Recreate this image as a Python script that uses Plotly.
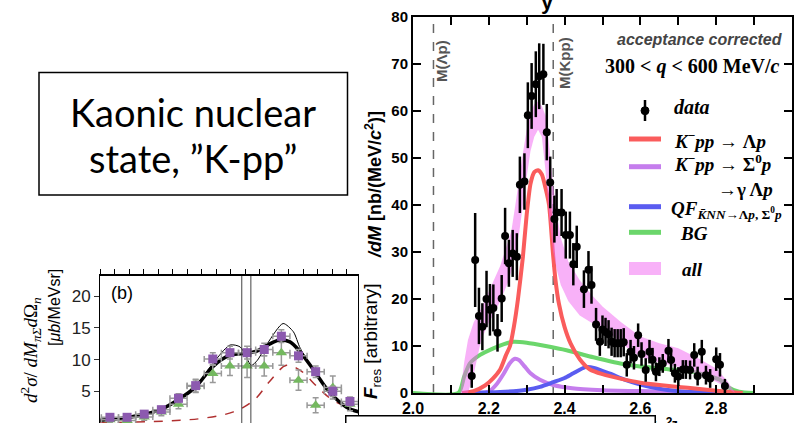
import plotly.graph_objects as go

W, H = 802, 423

# ---------------- main plot data (Lambda-p invariant mass) ----------------
mass = [2.155, 2.164, 2.174, 2.183, 2.194, 2.203, 2.212, 2.223, 2.234, 2.243,
        2.253, 2.263, 2.274, 2.282, 2.294, 2.303, 2.313, 2.324, 2.333, 2.344,
        2.353, 2.362, 2.373, 2.379, 2.392, 2.403, 2.414, 2.423, 2.432, 2.451,
        2.463, 2.471, 2.483, 2.493, 2.500, 2.508, 2.516, 2.524, 2.532, 2.540,
        2.548, 2.556, 2.564, 2.574, 2.583, 2.594, 2.603, 2.614, 2.624, 2.632,
        2.641, 2.650, 2.659, 2.674, 2.681, 2.691, 2.700, 2.712, 2.720, 2.731,
        2.742, 2.751, 2.762, 2.773, 2.784, 2.800, 2.810, 2.823]
xsec = [3.6, 28.3, 16.4, 14.1, 20.0, 17.7, 18.1, 12.8, 20.1, 33.4,
        27.6, 29.7, 29.0, 44.3, 45.0, 59.1, 63.2, 65.7, 67.4, 67.8,
        55.5, 44.8, 37.0, 38.4, 38.4, 33.6, 33.6, 27.4, 31.1, 22.1,
        26.2, 23.0, 14.6, 10.9, 13.5, 13.0, 12.5, 10.9, 10.6, 10.6,
        10.6, 10.8, 6.0, 8.8, 7.5, 12.3, 8.3, 4.9, 8.8, 7.1,
        4.5, 5.6, 6.3, 9.0, 7.0, 4.2, 3.5, 5.0, 5.0, 4.9,
        8.1, 3.6, 8.8, 3.8, 3.1, 7.2, 6.0, 1.5]
xsec_err = [2.5, 10, 6, 5, 6, 5.5, 5, 4, 5, 6,
            5, 5, 5, 6, 6, 7, 7, 7, 7, 6.5,
            6, 5.5, 5, 5, 5, 5, 5, 4.5, 4.5, 4,
            4, 4, 3.5, 3, 3, 3, 3, 3, 3, 3,
            3, 3, 2.5, 2.5, 2.5, 2.5, 2.5, 2.5, 2.5, 2.5,
            2, 2, 2, 2.5, 2.5, 2, 2, 2, 2, 2,
            2.5, 2, 2.5, 2, 2, 2.5, 2.5, 1.5]

red_m = [2.13, 2.16, 2.19, 2.21, 2.23, 2.245, 2.256, 2.266, 2.277, 2.29, 2.30,
         2.31, 2.32, 2.33, 2.34, 2.35, 2.359, 2.369, 2.376, 2.385, 2.40, 2.416,
         2.44, 2.467, 2.5, 2.55, 2.6, 2.65, 2.7, 2.75, 2.8, 2.85, 2.87]
red_v = [0, 0.4, 1.6, 3.0, 5.0, 8.0, 10.0, 14.0, 20.0, 29.0, 38.0,
         44.5, 47.0, 47.4, 46.5, 43.5, 40.0, 30.0, 24.0, 19.0, 14.0, 10.5,
         7.2, 5.0, 4.0, 3.0, 2.2, 1.7, 1.3, 0.9, 0.5, 0.1, 0]

pur_m = [2.17, 2.20, 2.22, 2.24, 2.255, 2.269, 2.28, 2.295, 2.31, 2.335, 2.37,
         2.42, 2.5, 2.6, 2.7, 2.8, 2.85]
pur_v = [0, 0.3, 1.8, 4.2, 6.3, 7.3, 7.0, 5.6, 4.2, 2.8, 1.7,
         1.0, 0.6, 0.4, 0.25, 0.1, 0]

blu_m = [2.13, 2.23, 2.28, 2.30, 2.335, 2.37, 2.40, 2.423, 2.455, 2.48, 2.52,
         2.56, 2.60, 2.65, 2.70, 2.75, 2.80, 2.85]
blu_v = [0, 0.2, 0.5, 0.7, 1.3, 2.3, 3.2, 4.2, 5.5, 5.3, 4.1,
         2.8, 1.8, 0.9, 0.4, 0.15, 0, 0]

grn_m = [2.0, 2.12, 2.135, 2.15, 2.177, 2.212, 2.24, 2.265, 2.30, 2.35, 2.405,
         2.476, 2.564, 2.652, 2.74, 2.81, 2.828, 2.86, 2.9]
grn_v = [0, 0, 3.5, 6.3, 8.1, 9.5, 10.4, 10.9, 10.7, 10.0, 9.1,
         7.6, 6.0, 5.2, 4.5, 2.8, 1.4, 0.3, 0]

band_m = [2.125, 2.135, 2.145, 2.16, 2.18, 2.20, 2.215, 2.23, 2.25, 2.26, 2.27,
          2.28, 2.29, 2.30, 2.31, 2.32, 2.33, 2.34, 2.35, 2.36, 2.37, 2.38,
          2.39, 2.41, 2.44, 2.47, 2.5, 2.55, 2.6, 2.65, 2.7, 2.75, 2.8, 2.83, 2.85]
band_hi = [0, 6.5, 11.3, 15, 18, 21.5, 24, 27, 32, 34.7, 40,
           46, 51, 56, 59.5, 61.5, 62, 61, 59, 52, 44, 38,
           33, 28, 24, 21, 18.4, 15, 12, 10.6, 9.5, 7.5, 5.2, 2.5, 0]
band_lo = [0, 0, 0, 4, 11.3, 15, 17, 19.5, 23.4, 26, 30,
           34, 40, 46, 51.5, 54.5, 56, 54.5, 47, 37, 30, 26,
           23, 19.5, 16.5, 15, 14.1, 10.5, 7.7, 6.5, 5.6, 4, 2.4, 1, 0]

M_LAMBDA_P = 2.054   # GeV/c^2
M_KPP = 2.370        # GeV/c^2

# ---------------- inset (b) data ----------------
inset_m = [1355, 1365, 1375, 1385, 1395, 1405, 1415, 1425, 1435, 1445,
           1455, 1465, 1475, 1485, 1495]
sq_v = [0.9, 0.9, 1.4, 2.1, 3.9, 5.9, 10.1, 11.1, 11.1, 11.6, 13.7, 10.6, 8.1, 5.0, 3.4]
sq_e = [0.4, 0.4, 0.5, 0.5, 0.7, 1.0, 1.0, 1.0, 1.0, 1.0, 1.0, 1.0, 0.9, 0.8, 0.7]
tri_v = [0.5, 0.4, 0.95, 1.75, 2.95, 5.8, 7.8, 9.0, 9.0, 9.0, 11.1, 6.75, 2.8, 5.6, 2.95]
tri_e = [0.4, 0.4, 0.5, 0.6, 0.7, 1.0, 1.4, 1.5, 1.8, 1.6, 2.0, 1.6, 1.2, 1.8, 1.0]
bin_half = 5

thick_m = [1349, 1365, 1375, 1385, 1395, 1405, 1415, 1425, 1435, 1441, 1447,
           1454, 1460, 1466, 1474, 1483, 1493, 1501]
thick_v = [0.43, 0.85, 1.38, 2.17, 3.7, 5.7, 8.9, 10.7, 11.0, 11.4, 12.3,
           13.1, 12.8, 11.2, 8.3, 4.9, 2.5, 1.7]
thin_m = [1349, 1365, 1375, 1385, 1395, 1405, 1415, 1425, 1431, 1437.5, 1441,
          1447, 1456, 1462, 1466, 1476, 1485, 1495, 1501]
thin_v = [0.4, 0.85, 1.35, 2.15, 3.7, 5.8, 9.4, 12.3, 12.0, 9.1, 9.9,
          12.6, 15.7, 14.4, 11.8, 7.5, 4.1, 2.3, 1.6]
dash_m = [1349, 1378, 1396, 1408, 1427, 1439, 1448, 1458, 1466, 1476, 1485, 1501]
dash_v = [0.05, 0.2, 0.45, 0.7, 1.75, 3.6, 6.5, 9.1, 8.3, 5.7, 3.6, 1.7]
thresholds = [1431.9, 1437.2]   # K-p and K0bar n thresholds (MeV)

RED, PUR, BLU, GRN = '#fa5c5c', '#c57ded', '#5a5cf0', '#6bd66b'
SANS, SERIF = 'Liberation Sans', 'Liberation Serif'


def PX(x):
    return x / W


def PY(y):
    return 1 - y / H


fig = go.Figure()

# main plot curves
for m, v, c in [(grn_m, grn_v, GRN), (pur_m, pur_v, PUR), (blu_m, blu_v, BLU), (red_m, red_v, RED)]:
    fig.add_trace(go.Scatter(x=m, y=v, mode='lines', line=dict(color=c, width=4, shape='spline', smoothing=0.6),
                             xaxis='x', yaxis='y', hoverinfo='skip'))

fig.add_trace(go.Scatter(x=band_m + band_m[::-1], y=band_hi + band_lo[::-1], mode='lines',
                         fill='toself', fillcolor='rgba(242,100,242,0.5)', line=dict(width=0),
                         xaxis='x', yaxis='y', hoverinfo='skip'))

fig.add_trace(go.Scatter(x=mass, y=xsec, mode='markers',
                         marker=dict(color='black', size=8),
                         error_y=dict(type='data', array=xsec_err, color='black', thickness=2.5, width=0),
                         xaxis='x', yaxis='y'))

# inset curves
fig.add_trace(go.Scatter(x=dash_m, y=dash_v, mode='lines', line=dict(color='#b03030', width=1.5, dash='dash', shape='spline'),
                         xaxis='x2', yaxis='y2'))
fig.add_trace(go.Scatter(x=thin_m, y=thin_v, mode='lines', line=dict(color='black', width=1, shape='spline', smoothing=0.7),
                         xaxis='x2', yaxis='y2'))
fig.add_trace(go.Scatter(x=thick_m, y=thick_v, mode='lines', line=dict(color='black', width=3.5, shape='spline'),
                         xaxis='x2', yaxis='y2'))
fig.add_trace(go.Scatter(x=inset_m, y=tri_v, mode='markers',
                         marker=dict(symbol='triangle-up', color='#74b85f', size=10),
                         error_y=dict(type='data', array=tri_e, color='#999999', thickness=1.5, width=3),
                         error_x=dict(type='constant', value=bin_half, color='#999999', thickness=1.5, width=3),
                         xaxis='x2', yaxis='y2'))
fig.add_trace(go.Scatter(x=inset_m, y=sq_v, mode='markers',
                         marker=dict(symbol='square', color='#8c5aaf', size=9),
                         error_y=dict(type='data', array=sq_e, color='#999999', thickness=1.5, width=3),
                         error_x=dict(type='constant', value=bin_half, color='#999999', thickness=1.5, width=3),
                         xaxis='x2', yaxis='y2'))

axis_main = dict(showline=True, linecolor='black', linewidth=2, mirror='ticks', ticks='inside',
                 ticklen=8, tickwidth=2, tickcolor='black', showgrid=False, zeroline=False, automargin=False)

fig.update_layout(
    template='none',
    width=W, height=H, margin=dict(l=0, r=0, t=0, b=0, pad=0, autoexpand=False),
    paper_bgcolor='white', plot_bgcolor='white', showlegend=False,
    xaxis=dict(domain=[PX(413), PX(792)], range=[2.0, 3.0], dtick=0.2, tick0=2.0, tickformat='.1f',
               anchor='y', tickfont=dict(family=SANS, size=16, color='black', weight='bold'),
               minor=dict(dtick=0.1, ticks='inside', ticklen=8, tickwidth=2, tickcolor='black', showgrid=False),
               **axis_main),
    yaxis=dict(domain=[PY(393), PY(17)], range=[0, 80], dtick=10, anchor='x',
               tickfont=dict(family=SANS, size=15, color='black', weight='bold'), **axis_main),
    xaxis2=dict(domain=[PX(100), PX(358)], range=[1349.2, 1499.7], anchor='y2', showticklabels=False,
                ticks='outside', ticklen=5, tickcolor='black', dtick=8.46, tick0=1349.2, automargin=False,
                showline=True, linecolor='black', linewidth=1.5, mirror='ticks', showgrid=False, zeroline=False),
    yaxis2=dict(domain=[0, PY(276)], range=[0, 23.2], anchor='x2', dtick=5, ticks='outside', ticklen=5,
                tickcolor='#333', tickfont=dict(family=SANS, size=17, color='#222'), automargin=False,
                showline=True, linecolor='black', linewidth=1, mirror=True, showgrid=False, zeroline=False),
)

shapes = []
# threshold dashed lines in the main plot
for xv in [M_LAMBDA_P, M_KPP]:
    shapes.append(dict(type='line', xref='x', yref='y domain', x0=xv, x1=xv, y0=0, y1=1,
                       line=dict(color='#666666', width=1.5, dash='dash'), layer='below'))
# thresholds in inset
for xv in thresholds:
    shapes.append(dict(type='line', xref='x2', yref='y2 domain', x0=xv, x1=xv, y0=0, y1=1,
                       line=dict(color='#444444', width=1)))
# title text box
shapes.append(dict(type='rect', xref='paper', yref='paper', x0=PX(39), x1=PX(347.5), y0=PY(195), y1=PY(72.5),
                   line=dict(color='black', width=1.5), fillcolor='rgba(0,0,0,0)'))
# legend swatches
for yy, c in [(139, RED), (166.7, PUR), (206.7, BLU), (232.3, GRN)]:
    shapes.append(dict(type='line', xref='paper', yref='paper', x0=PX(629), x1=PX(661), y0=PY(yy), y1=PY(yy),
                       line=dict(color=c, width=5)))
shapes.append(dict(type='rect', xref='paper', yref='paper', x0=PX(629), x1=PX(661), y0=PY(275), y1=PY(262),
                   line=dict(width=0), fillcolor='#f8b1f8'))
shapes.append(dict(type='line', xref='paper', yref='paper', x0=PX(645), x1=PX(645), y0=PY(121), y1=PY(100),
                   line=dict(color='black', width=2.5)))
shapes.append(dict(type='circle', xref='paper', yref='paper', x0=PX(641), x1=PX(649), y0=PY(114.7), y1=PY(106.7),
                   line=dict(color='black', width=1), fillcolor='black'))
fig.update_layout(shapes=shapes)

anns = []


def ann(text, x, y, size, family=SANS, color='black', xanchor='center', yanchor='middle', angle=0,
        weight='normal', style='normal', **kw):
    anns.append(dict(text=text, x=PX(x), y=PY(y), xref='paper', yref='paper', showarrow=False,
                     xanchor=xanchor, yanchor=yanchor, textangle=angle,
                     font=dict(family=family, size=size, color=color, weight=weight, style=style), **kw))


# text box
ann('Kaonic nuclear', 193, 112, 38, family='Lato')
ann('state, \u201dK-pp\u201d', 193, 158, 38, family='Lato')

# main plot texts
ann('M(\u039bp)', 442, 61, 15, color='#555555', angle=-90, weight='bold')
ann('M(Kpp)', 564, 63, 15, color='#555555', angle=-90, weight='bold')
ann('acceptance corrected', 785, 39, 16, color='#444444', xanchor='right', weight='bold', style='italic')
ann('300 &lt; <i>q</i> &lt; 600 MeV/<i>c</i>', 782, 66, 20, family=SERIF, xanchor='right', weight='bold')
ann('y', 547, 1, 22, weight='bold')

# legend texts
ann('<i>data</i>', 672, 107, 20, family=SERIF, xanchor='left', weight='bold')
ann('<i>K</i><sup>\u2212</sup><i>pp</i> \u2192 \u039b<i>p</i>', 672, 140, 19, family=SERIF, xanchor='left', weight='bold')
ann('<i>K</i><sup>\u2212</sup><i>pp</i> \u2192 \u03a3<sup>0</sup><i>p</i>', 672, 163, 19, family=SERIF, xanchor='left', weight='bold')
ann('\u2192\u03b3 \u039b<i>p</i>', 716, 189, 19, family=SERIF, xanchor='left', weight='bold')
ann('<i>QF</i><sub><i>K\u0304NN</i>\u2192\u039b<i>p</i>, \u03a3<sup>0</sup><i>p</i></sub>', 669, 210, 19,
    family=SERIF, xanchor='left', weight='bold')
ann('<i>BG</i>', 678, 233, 19, family=SERIF, xanchor='left', weight='bold')
ann('<i>all</i>', 680, 269, 19, family=SERIF, xanchor='left', weight='bold')

# main y titles
ann('<i>/dM</i> [nb/(MeV/<i>c</i><sup>2</sup>)]', 373, 185, 18, angle=-90, weight='bold')
ann('<b><i>F</i></b><sub>res</sub> [arbitrary]', 372, 341, 19, angle=-90)

# main x title (mostly hidden) and the covering white box
ann('<i>IM</i><sub>\u039bp</sub> [GeV/<i>c</i><sup>2</sup>]', 680, 413, 17, xanchor='right', yanchor='top', weight='bold')
anns.append(dict(text=' ', x=PX(345), y=PY(415), xref='paper', yref='paper', showarrow=False,
                 xanchor='left', yanchor='top', width=308, height=20, bgcolor='white',
                 bordercolor='black', borderwidth=1.5, borderpad=0))

# inset texts
ann('(b)', 122, 293, 18)
ann('<i>d</i><sup>2</sup><i>\u03c3</i>/ <i>dM</i><sub><i>\u03c0\u03a3</i></sub><i>d</i>\u03a9<sub><i>n</i></sub>',
    30, 350, 19, family=SERIF, angle=-90)
ann('[<i>\u03bcb</i>/MeVsr]', 54, 308, 16, angle=-90)

fig.update_layout(annotations=anns)

fig.write_html('out.html', config={'displayModeBar': False},
               post_script="document.body.style.margin='0';document.body.style.overflow='hidden';")
